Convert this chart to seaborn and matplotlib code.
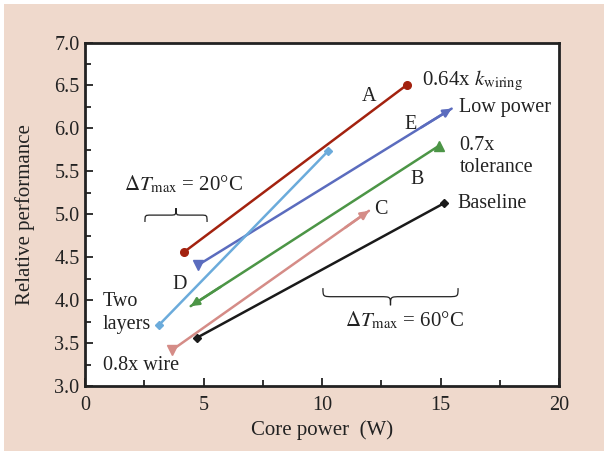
import numpy as np
import pandas as pd
import matplotlib
matplotlib.use("Agg")
import matplotlib.pyplot as plt
import seaborn as sns
from matplotlib.path import Path
from matplotlib.patches import PathPatch, Rectangle

# ---- data ----
series = ["A", "E", "B", "C", "D", "Baseline"]
x_start = [4.18, 4.78, 4.46, 3.68, 3.12, 4.71]
y_start = [4.56, 4.41, 3.93, 3.42, 3.71, 3.56]
x_end = [13.60, 15.47, 14.95, 11.98, 10.27, 15.16]
y_end = [6.51, 6.23, 5.80, 5.04, 5.74, 5.13]
colors = ["#A3220F", "#5B6CBE", "#4C9546", "#D58C87", "#6BABDB", "#1A1A1A"]
start_marker = ["o", "v", "arrow", "v", "D", "D"]
end_marker = ["o", "arrow", "^", "arrow", "D", "D"]
x_ticks = [0, 5, 10, 15, 20]
y_ticks = [3.0, 3.5, 4.0, 4.5, 5.0, 5.5, 6.0, 6.5, 7.0]

rows = []
for s, xs, ys, xe, ye in zip(series, x_start, y_start, x_end, y_end):
    rows.append({"series": s, "order": 0, "power": xs, "perf": ys})
    rows.append({"series": s, "order": 1, "power": xe, "perf": ye})
df = pd.DataFrame(rows)

sns.set_theme(style="ticks")
plt.rcParams["font.family"] = ["Liberation Serif", "DejaVu Serif"]
plt.rcParams["mathtext.fontset"] = "stix"

fig = plt.figure(figsize=(6.04, 4.53), dpi=100, facecolor="white")
fig.patches.append(Rectangle((4 / 604, 2 / 453), 1 - 4 / 604, 1 - 6 / 453,
                             transform=fig.transFigure, facecolor="#EFD9CC",
                             edgecolor="none", zorder=-10))
ax = fig.add_axes([85 / 604, 1 - 386 / 453, (559 - 85) / 604, (386 - 42.5) / 453])
ax.set_facecolor("white")

palette = dict(zip(series, colors))
sns.lineplot(data=df, x="power", y="perf", hue="series", units="series",
             estimator=None, sort=False, palette=palette, legend=False,
             linewidth=1.8, ax=ax)


def put_marker(xp, yp, xo, yo, m, c):
    if m == "arrow":
        ax.annotate("", xy=(xp, yp), xytext=(xp + 0.12 * (xo - xp), yp + 0.12 * (yo - yp)),
                    arrowprops=dict(arrowstyle="-|>", color=c, lw=1.8,
                                    mutation_scale=12, shrinkA=0, shrinkB=0))
    else:
        ms = {"o": 5.5, "v": 7, "^": 7, "D": 4.2}[m]
        ax.plot([xp], [yp], marker=m, color=c, markersize=ms, linestyle="none")


for i in range(len(series)):
    put_marker(x_start[i], y_start[i], x_end[i], y_end[i], start_marker[i], colors[i])
    put_marker(x_end[i], y_end[i], x_start[i], y_start[i], end_marker[i], colors[i])

ax.set_xlim(0, 20)
ax.set_ylim(3.0, 7.0)
ax.set_xticks(x_ticks)
ax.set_xticklabels([str(t) for t in x_ticks])
ax.set_yticks(y_ticks)
ax.set_yticklabels([f"{t:.1f}" for t in y_ticks])
ax.set_xticks(np.arange(0, 20.1, 2.5), minor=True)
ax.set_yticks(np.arange(3.0, 7.01, 0.25), minor=True)
ax.tick_params(which="both", direction="in", top=False, right=False,
               labelsize=14.5, width=1.3, colors="#222222")
ax.tick_params(axis="x", which="both", pad=7)
ax.tick_params(axis="y", which="both", pad=4)
ax.tick_params(which="major", length=6)
ax.tick_params(which="minor", length=4)
for sp in ax.spines.values():
    sp.set_visible(True)
    sp.set_linewidth(2.0)
    sp.set_color("#222222")
ax.set_xlabel("Core power  (W)", fontsize=15, color="#222222", labelpad=4)
ax.set_ylabel("Relative performance", fontsize=15, color="#222222", labelpad=14)

tc = "#222222"
fs = 14.5
ax.text(14.2, 6.55, r"0.64x $k_{\mathrm{wiring}}$", fontsize=15, color=tc, va="center")
ax.text(12.0, 6.37, "A", fontsize=fs, color=tc, va="center", ha="center")
ax.text(13.75, 6.05, "E", fontsize=fs, color=tc, va="center", ha="center")
ax.text(15.8, 6.24, "Low power", fontsize=fs, color=tc, va="center")
ax.text(15.8, 5.8, "0.7x", fontsize=fs, color=tc, va="center")
ax.text(15.8, 5.54, "tolerance", fontsize=fs, color=tc, va="center")
ax.text(14.0, 5.41, "B", fontsize=fs, color=tc, va="center", ha="center")
ax.text(12.5, 5.06, "C", fontsize=fs, color=tc, va="center", ha="center")
ax.text(15.7, 5.13, "Baseline", fontsize=fs, color=tc, va="center")
ax.text(4.0, 4.18, "D", fontsize=fs, color=tc, va="center", ha="center")
ax.text(0.75, 3.98, "Two", fontsize=fs, color=tc, va="center")
ax.text(0.75, 3.72, "layers", fontsize=fs, color=tc, va="center")
ax.text(0.75, 3.24, "0.8x wire", fontsize=fs, color=tc, va="center")
ax.text(4.14, 5.35, r"$\Delta T_{\mathrm{max}}$ = 20°C", fontsize=15, color=tc,
        va="center", ha="center")
ax.text(13.5, 3.76, r"$\Delta T_{\mathrm{max}}$ = 60°C", fontsize=15, color=tc,
        va="center", ha="center")


def brace(x0, x1, y_ends, y_tip):
    xm = 0.5 * (x0 + x1)
    ymid = 0.5 * (y_ends + y_tip)
    r = 0.06 * (x1 - x0) + 0.1
    verts = [(x0, y_ends), (x0, ymid), (x0, ymid), (x0 + r, ymid),
             (xm - r, ymid), (xm, ymid), (xm, ymid), (xm, y_tip),
             (xm, ymid), (xm, ymid), (xm + r, ymid),
             (x1 - r, ymid), (x1, ymid), (x1, ymid), (x1, y_ends)]
    codes = [Path.MOVETO, Path.CURVE4, Path.CURVE4, Path.CURVE4,
             Path.LINETO, Path.CURVE4, Path.CURVE4, Path.CURVE4,
             Path.CURVE4, Path.CURVE4, Path.CURVE4,
             Path.LINETO, Path.CURVE4, Path.CURVE4, Path.CURVE4]
    ax.add_patch(PathPatch(Path(verts, codes), facecolor="none", edgecolor=tc, lw=0.9))


brace(2.53, 5.15, 4.91, 5.07)
brace(10.04, 15.74, 4.14, 3.94)

fig.savefig("out.png", dpi=100, facecolor=fig.get_facecolor())
